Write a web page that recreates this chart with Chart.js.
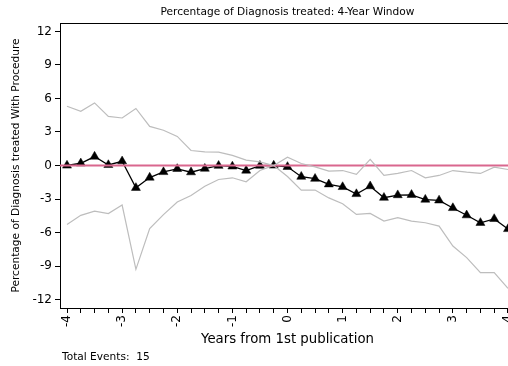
<!DOCTYPE html>
<html><head><meta charset="utf-8">
<script src="https://cdn.jsdelivr.net/npm/chart.js@4"></script>
<style>html,body{margin:0;padding:0;overflow:hidden;background:#fff;width:508px;height:366px}#wrap{width:515px;height:366px}</style>
</head><body><div id="wrap"><canvas id="c" width="515" height="366"></canvas></div>
<script>
const titleText = 'Percentage of Diagnosis treated: 4-Year Window';
const yTitle = 'Percentage of Diagnosis treated With Procedure';
const xTitle = 'Years from 1st publication';
const noteText = 'Total Events:  15';

const quarters = [-4,-3.75,-3.5,-3.25,-3,-2.75,-2.5,-2.25,-2,-1.75,-1.5,-1.25,-1,-0.75,-0.5,-0.25,0,0.25,0.5,0.75,1,1.25,1.5,1.75,2,2.25,2.5,2.75,3,3.25,3.5,3.75,4];
const estimate = [0,0.2,0.8,0.05,0.38,-2.0,-1.08,-0.58,-0.3,-0.6,-0.28,-0.02,-0.08,-0.45,-0.02,0,-0.12,-1.0,-1.18,-1.68,-1.92,-2.55,-1.85,-2.88,-2.65,-2.62,-3.05,-3.12,-3.8,-4.45,-5.13,-4.78,-5.68];
const upperCI = [5.3,4.85,5.6,4.4,4.25,5.1,3.5,3.15,2.6,1.34,1.22,1.2,0.9,0.48,0.33,0,0.74,0.18,-0.12,-0.5,-0.45,-0.8,0.54,-0.89,-0.71,-0.45,-1.1,-0.89,-0.45,-0.6,-0.71,-0.15,-0.36];
const lowerCI = [-5.27,-4.46,-4.08,-4.3,-3.54,-9.29,-5.65,-4.4,-3.27,-2.68,-1.85,-1.25,-1.1,-1.46,-0.45,0,-0.98,-2.2,-2.2,-2.9,-3.42,-4.38,-4.29,-4.97,-4.67,-4.97,-5.12,-5.42,-7.2,-8.24,-9.58,-9.58,-11.0];
const yTicks = [-12,-9,-6,-3,0,3,6,9,12];
const xTickLabels = [-4,-3,-2,-1,0,1,2,3,4];
const referenceValue = 0;

const FONT = 'DejaVu Sans';
const pts = arr => quarters.map((x, i) => ({x: x, y: arr[i]}));

const extras = {
  id: 'extras',
  afterDatasetDraw(chart, args) {
    if (args.index === 1) {
      const {ctx, chartArea} = chart;
      const y = chart.scales.y.getPixelForValue(referenceValue);
      ctx.save();
      ctx.strokeStyle = '#d9678e';
      ctx.lineWidth = 2;
      ctx.beginPath();
      ctx.moveTo(chartArea.left, y);
      ctx.lineTo(chartArea.right, y);
      ctx.stroke();
      ctx.restore();
    }
  },
  afterDraw(chart) {
    const {ctx, chartArea} = chart;
    ctx.save();
    ctx.font = '10.6px "' + FONT + '"';
    ctx.fillStyle = '#000';
    ctx.textBaseline = 'middle';
    ctx.textAlign = 'left';
    ctx.fillText(noteText, chartArea.left + 2, 357);
    ctx.restore();
  }
};

new Chart(document.getElementById('c'), {
  type: 'line',
  data: {
    datasets: [
      {label: 'upper', data: pts(upperCI), borderColor: '#bdbdbd', borderWidth: 1.2, pointRadius: 0, fill: false, tension: 0},
      {label: 'lower', data: pts(lowerCI), borderColor: '#bdbdbd', borderWidth: 1.2, pointRadius: 0, fill: false, tension: 0},
      {label: 'estimate', data: pts(estimate), borderColor: '#000', borderWidth: 1.3, pointStyle: 'triangle', pointRadius: 5.2, pointBackgroundColor: '#000', pointBorderColor: '#000', pointBorderWidth: 0.5, fill: false, tension: 0}
    ]
  },
  options: {
    responsive: false,
    animation: false,
    layout: {autoPadding: false, padding: {left: 0, right: 0, top: 0, bottom: 0}},
    plugins: {
      legend: {display: false},
      tooltip: {enabled: false},
      title: {display: false}
    },
    scales: {
      x: {
        type: 'linear', min: -4.127, max: 4.127,
        afterBuildTicks: s => { s.ticks = quarters.map(v => ({value: v})); },
        afterFit: s => { s.height = 58; s.paddingLeft = 0; s.paddingRight = 0; },
        grid: {drawOnChartArea: false, drawTicks: true, tickLength: 5, color: '#000', tickColor: '#000'},
        border: {color: '#000', width: 1},
        ticks: {autoSkip: false, minRotation: 90, maxRotation: 90, color: '#000', font: {family: FONT, size: 12}, padding: 2,
          callback: v => xTickLabels.includes(v) ? String(v) : ''},
        title: {display: true, text: xTitle, color: '#000', font: {family: FONT, size: 13.3}, padding: {top: 0, bottom: 18}}
      },
      xTop: {
        type: 'linear', position: 'top', min: -4.127, max: 4.127,
        afterFit: s => { s.height = 23; s.paddingLeft = 0; s.paddingRight = 0; },
        grid: {display: false, drawOnChartArea: false, drawTicks: false},
        border: {display: true, color: '#000', width: 1},
        ticks: {display: false},
        title: {display: true, text: titleText, color: '#000', font: {family: FONT, size: 10.6}, padding: {top: 6, bottom: 0}}
      },
      y: {
        min: -12.75, max: 12.75,
        afterBuildTicks: s => { s.ticks = yTicks.map(v => ({value: v})); },
        afterFit: s => { s.width = 60; s.paddingTop = 0; s.paddingBottom = 0; },
        grid: {drawOnChartArea: false, drawTicks: true, tickLength: 5, color: '#000', tickColor: '#000'},
        border: {color: '#000', width: 1},
        ticks: {color: '#000', font: {family: FONT, size: 12}, padding: 3, callback: v => String(v)},
        title: {display: true, text: yTitle, color: '#000', font: {family: FONT, size: 10.6}, padding: {top: 10, bottom: 0}}
      }
    }
  },
  plugins: [extras]
});
</script></body></html>
